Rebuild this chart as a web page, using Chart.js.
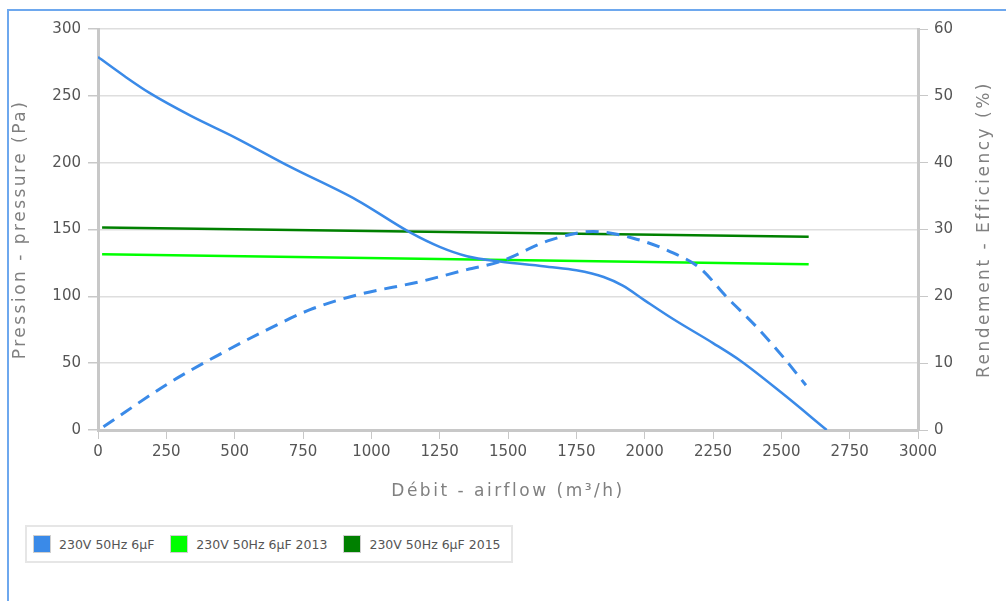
<!DOCTYPE html>
<html>
<head>
<meta charset="utf-8">
<script src="https://cdn.jsdelivr.net/npm/chart.js@4.4.1/dist/chart.umd.min.js"></script>
<style>
body{margin:0;overflow:hidden;background:#fff;font-family:"DejaVu Sans",sans-serif}
#frame{position:absolute;left:7px;top:9px;width:1100px;height:700px;border-left:2px solid #6ea8ee;border-top:2px solid #6ea8ee}
#wrap{position:absolute;left:0;top:0;width:1006px;height:515px}
#legend{position:absolute;left:25px;top:525px;width:484px;height:34px;border:2px solid #e6e6e6;display:flex;align-items:center;font-size:12.5px;color:#555}
.item{display:flex;align-items:center;margin-left:6px;margin-right:10px}
.sq{width:16px;height:16px;border:1px solid #cfcfcf;margin-right:8px}
</style>
</head>
<body>
<div id="frame"></div>
<div id="wrap"><canvas id="chart" width="1006" height="515"></canvas></div>
<div id="legend"></div>
<script>

// airflow (m3/h) and pressure (Pa), solid blue
let pFlow=[0,95,190,340,500,702,947,1140,1250,1350,1470,1650,1750,1850,1920,2000,2104,2250,2349,2500,2666]
let pressure=[279,265,252,235,219,197,172,148,137,130,126,122,119.5,114.5,108,97,83,65,52,28,0]

// efficiency (%), dashed blue
let eFlow=[20,263,435,604,776,947,1178,1350,1471,1654,1811,1958,2104,2203,2300,2410,2507,2590]
let efficiency=[0.5,7.1,11.1,14.7,18.0,20.2,22.2,24.0,25.2,28.4,29.7,28.7,26.5,24.2,19.9,15.4,10.9,6.7]

// ErP lines (%)
let erpFlow=[15,2600]
let erp2013=[26.3,24.8]
let erp2015=[30.3,28.9]

let seriesNames=["230V 50Hz 6µF","230V 50Hz 6µF 2013","230V 50Hz 6µF 2015"]
let seriesColors=["#3a8ae8","#00ff00","#008000"]

let xTitle="Débit - airflow (m³/h)"
let yTitle="Pression - pressure (Pa)"
let y2Title="Rendement - Efficiency (%)"

function pts(xs,ys){
return xs.map((x,i)=>({x:x,y:ys[i]}))
}

let axisTitles={
id:"axisTitles",
afterDraw(chart){
let ctx=chart.ctx
let a=chart.chartArea
let cy=(a.top+a.bottom)/2
ctx.save()
ctx.font='17px "DejaVu Sans"'
ctx.fillStyle="#808080"
ctx.textAlign="center"
ctx.textBaseline="middle"
ctx.letterSpacing="2.5px"
ctx.fillText(xTitle,(a.left+a.right)/2,a.bottom+62)
ctx.save()
ctx.translate(21,cy)
ctx.rotate(-Math.PI/2)
ctx.fillText(yTitle,0,0)
ctx.restore()
ctx.translate(a.right+67,cy)
ctx.rotate(-Math.PI/2)
ctx.fillText(y2Title,0,0)
ctx.restore()
}
}

let gridGrey="#c8c8c8"
let tickFont={family:"DejaVu Sans",size:15}
let plain=v=>String(v)

new Chart(document.getElementById("chart"),{
type:"line",
data:{
datasets:[
{label:seriesNames[0],data:pts(pFlow,pressure),borderColor:seriesColors[0],borderWidth:2.5,yAxisID:"y",cubicInterpolationMode:"monotone"},
{label:seriesNames[0]+" eff",data:pts(eFlow,efficiency),borderColor:seriesColors[0],borderWidth:3,borderDash:[13,8],yAxisID:"y2",cubicInterpolationMode:"monotone"},
{label:seriesNames[1],data:pts(erpFlow,erp2013),borderColor:seriesColors[1],borderWidth:2.5,yAxisID:"y2"},
{label:seriesNames[2],data:pts(erpFlow,erp2015),borderColor:seriesColors[2],borderWidth:2.5,yAxisID:"y2"}
]
},
options:{
responsive:false,
animation:false,
elements:{point:{radius:0}},
layout:{padding:{top:29,left:0,right:0,bottom:0}},
plugins:{legend:{display:false},tooltip:{enabled:false}},
scales:{
x:{
type:"linear",min:0,max:3000,
ticks:{stepSize:250,color:"#555",font:tickFont,padding:4,maxRotation:0,callback:plain},
grid:{drawOnChartArea:false,tickLength:9,tickColor:gridGrey},
border:{color:gridGrey,width:3},
afterFit(s){s.height=85}
},
y:{
position:"left",min:0,max:300,
ticks:{stepSize:50,color:"#555",font:tickFont,padding:7,callback:plain},
grid:{color:"#dedede",lineWidth:1.5,tickLength:10,tickColor:gridGrey},
border:{color:gridGrey,width:3},
afterFit(s){s.width=98}
},
y2:{
position:"right",min:0,max:60,
ticks:{stepSize:10,color:"#555",font:tickFont,padding:6,callback:plain},
grid:{drawOnChartArea:false,tickLength:10,tickColor:gridGrey},
border:{color:gridGrey,width:3},
afterFit(s){s.width=88}
}
}
},
plugins:[axisTitles]
})

let legend=document.getElementById("legend")
seriesNames.forEach((n,i)=>{
legend.innerHTML+=`<div class="item"><div class="sq" style="background:${seriesColors[i]}"></div><span>${n}</span></div>`
})

</script>
</body>
</html>
